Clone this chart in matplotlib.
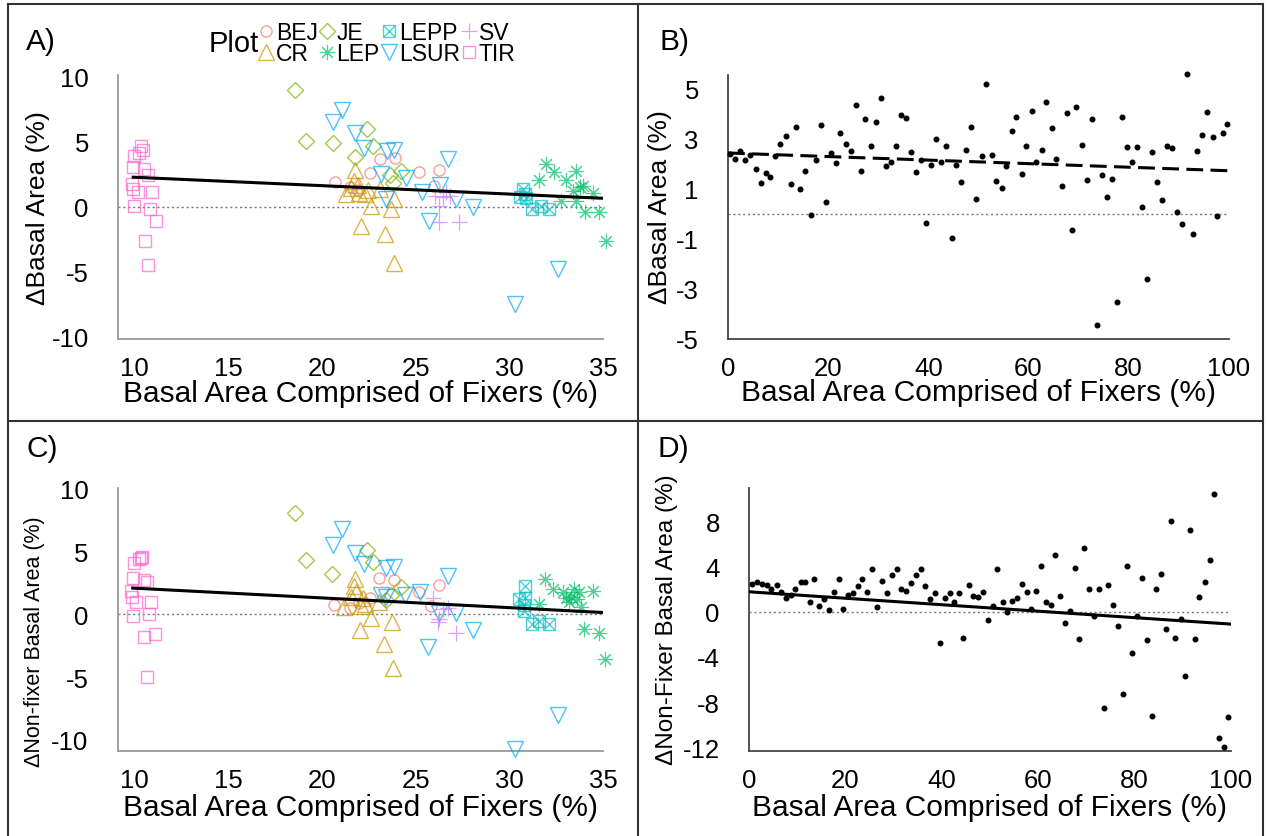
import numpy as np
import matplotlib
matplotlib.use("Agg")
import matplotlib.pyplot as plt
from matplotlib.lines import Line2D
from matplotlib.path import Path

plt.rcParams['font.family'] = ['Liberation Sans', 'DejaVu Sans']
plt.rcParams['axes.unicode_minus'] = False

W, H = 1268, 837

# ---------------- data: panel A (delta basal area vs % fixers, by plot) ----------------
plots = ['BEJ', 'CR', 'JE', 'LEP', 'LEPP', 'LSUR', 'SV', 'TIR']
colors = ['#F8766D', '#CD9600', '#7CAE00', '#00BE67', '#00BFC4', '#00A9FF', '#C77CFF', '#FF61CC']

a_x = {
    'TIR': [10.34, 10.43, 10.25, 9.98, 9.93, 10.50, 10.69, 9.84, 9.93, 10.16, 10.94, 9.98, 10.82, 11.13, 10.55, 10.72],
    'BEJ': [20.67, 21.51, 22.54, 23.10, 23.87, 25.16, 26.23, 25.95, 21.90],
    'JE': [18.56, 19.16, 20.58, 22.39, 22.74, 21.74, 24.23, 23.80, 23.60],
    'CR': [21.77, 21.70, 21.90, 21.30, 21.98, 22.27, 23.08, 22.62, 23.84, 23.70, 22.08, 23.33, 23.85, 21.55, 22.45],
    'LSUR': [21.06, 20.60, 21.77, 22.26, 23.48, 23.84, 23.13, 24.48, 25.31, 26.27, 26.71, 27.14, 28.07, 25.68, 23.42, 32.56, 30.30],
    'SV': [26.00, 26.44, 26.80, 26.62, 26.23, 26.22, 27.31],
    'LEPP': [30.73, 30.54, 30.88, 30.80, 31.18, 32.08, 31.65],
    'LEP': [31.93, 32.35, 31.56, 33.01, 33.52, 33.76, 33.37, 34.47, 32.74, 33.52, 34.01, 34.75, 35.14, 33.90],
}
a_y = {
    'TIR': [4.65, 4.38, 4.13, 3.92, 3.03, 2.90, 2.44, 1.75, 1.36, 1.11, 1.15, 0.08, -0.18, -1.12, -2.62, -4.48],
    'BEJ': [1.92, 1.49, 2.59, 3.67, 3.75, 2.64, 2.85, 1.57, 1.30],
    'JE': [8.98, 5.08, 4.90, 5.95, 4.67, 3.80, 2.72, 1.85, 2.40],
    'CR': [2.85, 1.95, 1.67, 0.98, 1.05, 0.98, 1.38, 0.08, 0.59, -0.20, -1.50, -2.11, -4.37, 1.40, 1.25],
    'LSUR': [7.41, 6.54, 5.70, 4.51, 4.31, 4.38, 2.55, 2.18, 1.13, 1.64, 3.63, 0.62, -0.05, -1.10, 0.59, -4.77, -7.45],
    'SV': [0.85, 0.72, 0.85, 1.10, 0.08, -1.20, -1.15],
    'LEPP': [1.36, 0.72, 0.65, 0.95, -0.18, -0.20, 0.05],
    'LEP': [3.25, 2.66, 2.04, 2.04, 2.77, 1.50, 1.23, 1.02, 0.42, 0.42, -0.38, -0.38, -2.61, 1.60],
}
fit_a = (2.91, -0.0647)   # intercept, slope

# ---------------- panel C (delta non-fixer basal area) ----------------
c_x = {
    'TIR': [10.34, 10.25, 9.98, 9.93, 10.51, 10.67, 9.84, 9.89, 10.11, 10.90, 9.93, 10.78, 11.10, 10.51, 10.68, 10.40],
    'BEJ': [20.67, 21.49, 22.54, 23.07, 23.87, 25.20, 26.23, 25.82, 22.00],
    'JE': [18.57, 19.13, 20.55, 22.39, 22.74, 24.24, 23.70, 23.40],
    'CR': [21.77, 21.74, 21.83, 21.20, 22.08, 22.30, 23.07, 22.62, 23.74, 22.02, 23.30, 23.81, 21.55, 22.20],
    'LSUR': [21.06, 20.59, 21.79, 22.25, 23.43, 23.84, 23.16, 24.45, 25.25, 26.27, 26.71, 27.15, 28.06, 25.68, 32.57, 30.30, 23.40],
    'SV': [25.91, 26.44, 26.70, 26.23, 26.18, 27.15],
    'LEPP': [30.85, 30.85, 30.49, 30.79, 31.20, 32.09, 31.59, 30.75],
    'LEP': [31.91, 32.34, 31.56, 32.84, 33.46, 33.69, 34.43, 33.19, 33.81, 33.99, 34.75, 35.11, 33.00, 33.30, 33.60],
}
c_y = {
    'TIR': [4.50, 4.37, 4.05, 2.91, 2.72, 2.56, 1.85, 1.40, 0.93, 0.98, -0.13, 0.00, -1.59, -1.85, -5.03, 4.55],
    'BEJ': [0.71, 0.45, 1.25, 2.91, 2.72, 1.77, 2.33, 0.61, 0.90],
    'JE': [8.00, 4.30, 3.17, 5.09, 4.12, 2.12, 1.50, 1.10],
    'CR': [2.80, 2.25, 1.72, 0.53, 0.66, 0.80, 0.93, -0.34, -0.64, -1.25, -2.34, -4.26, 1.40, 1.30],
    'LSUR': [6.78, 5.52, 4.84, 3.95, 3.68, 3.78, 1.51, 1.51, 1.76, 0.08, 3.07, 0.13, -1.25, -2.65, -8.05, -10.74, 1.40],
    'SV': [1.32, 0.40, 0.50, -0.40, -0.66, -1.51],
    'LEPP': [2.25, 1.32, 1.19, 0.26, -0.79, -0.79, -0.53, 0.70],
    'LEP': [2.78, 1.98, 0.79, 1.72, 1.98, 1.72, 1.85, 0.93, 0.53, -1.19, -1.51, -3.57, 1.30, 1.40, 1.20],
}
fit_c = (2.84, -0.0775)

# ---------------- panel B (simulated, delta basal area) ----------------
b_x = [0.4, 1.44, 2.4, 3.44, 4.4, 5.6, 6.56, 7.6, 8.48, 9.44, 10.4, 11.52, 12.56, 13.6, 14.4, 15.44,
       16.56, 17.6, 18.48, 19.52, 20.48, 21.52, 22.4, 23.52, 24.56, 25.6, 26.48, 27.44, 28.56, 29.52,
       30.48, 31.52, 32.56, 33.52, 34.56, 35.6, 36.64, 37.6, 38.56, 39.6, 40.56, 41.6, 42.56, 43.6,
       44.64, 45.6, 46.56, 47.6, 48.56, 49.6, 50.64, 51.6, 52.64, 53.6, 54.64, 55.6, 56.64, 57.6,
       58.64, 59.6, 60.64, 61.6, 62.64, 63.6, 64.64, 65.6, 66.64, 67.68, 68.64, 69.6, 70.64, 71.68,
       72.72, 73.68, 74.72, 75.68, 76.72, 77.68, 78.64, 79.68, 80.72, 81.68, 82.72, 83.68, 84.72,
       85.68, 86.72, 87.68, 88.72, 89.68, 90.72, 91.68, 92.8, 93.76, 94.72, 95.76, 96.8, 97.76, 98.8, 99.76]
b_y = [2.4, 2.2, 2.53, 2.16, 2.36, 1.8, 1.23, 1.64, 1.47, 2.31, 2.8, 3.11, 1.2, 3.47, 1.0, 1.71,
       -0.04, 2.16, 3.56, 0.47, 2.44, 2.04, 3.24, 2.8, 2.51, 4.36, 1.73, 3.8, 2.71, 3.69,
       4.65, 1.91, 2.07, 2.73, 3.96, 3.84, 2.47, 1.67, 2.16, -0.36, 1.97, 3.0, 2.07, 2.71,
       -0.97, 1.97, 1.29, 2.57, 3.47, 0.6, 2.33, 5.2, 2.37, 1.33, 1.03, 1.91, 3.33, 3.87,
       1.6, 2.72, 4.13, 2.07, 2.56, 4.47, 3.43, 2.2, 1.11, 4.04, -0.63, 4.29, 2.77, 1.36,
       3.8, -4.43, 1.57, 0.69, 1.4, -3.51, 3.87, 2.68, 2.07, 2.67, 0.29, -2.6, 2.49,
       1.27, 0.56, 2.71, 2.63, 0.09, -0.41, 5.59, -0.81, 2.52, 3.16, 4.07, 3.07, -0.07, 3.24, 3.59]
fit_b = (2.44, -0.0071)

# ---------------- panel D (simulated, delta non-fixer basal area) ----------------
d_x = [0.58, 1.58, 2.66, 3.65, 4.65, 5.73, 6.64, 7.72, 8.72, 9.63, 10.71, 11.54, 12.62, 13.54, 14.62,
       15.61, 16.61, 17.61, 18.6, 19.6, 20.6, 21.51, 22.59, 23.5, 24.58, 25.58, 26.66, 27.57, 28.57,
       29.65, 30.65, 31.64, 32.64, 33.64, 34.63, 35.63, 36.63, 37.62, 38.62, 39.62, 40.61, 41.69,
       42.61, 43.6, 44.52, 45.6, 46.51, 47.59, 48.5, 49.58, 50.58, 51.58, 52.66, 53.65, 54.65, 55.65,
       56.65, 57.64, 58.64, 59.63, 60.63, 61.63, 62.62, 63.62, 64.62, 65.61, 66.61, 67.61, 68.6,
       69.52, 70.6, 71.59, 72.59, 73.67, 74.58, 75.58, 76.58, 77.57, 78.57, 79.57, 80.56, 81.56,
       82.56, 83.56, 84.55, 85.55, 86.54, 87.54, 88.54, 89.62, 90.53, 91.53, 92.53, 93.52, 94.6,
       95.6, 96.59, 97.59, 98.59, 99.5]
d_y = [2.48, 2.6, 2.45, 2.36, 2.0, 2.39, 1.71, 1.18, 1.5, 2.06, 2.65, 2.68, 0.83, 2.86, 0.53,
       1.12, 0.15, 1.71, 2.86, 0.29, 1.47, 1.62, 2.24, 2.86, 1.71, 3.78, 0.44, 2.71, 1.62,
       3.24, 3.83, 2.0, 1.83, 2.51, 3.27, 3.78, 2.3, 1.09, 1.62, -2.8, 1.21, 1.65,
       0.88, 1.62, -2.33, 2.39, 1.39, 1.33, 1.71, -0.74, 0.53, 3.78, 0.88, -0.06, 0.94, 1.18,
       2.45, 1.77, 0.24, 1.83, 4.01, 0.88, 0.59, 5.04, 1.42, -1.0, 0.09, 3.86, -2.42,
       5.66, 2.06, -0.41, 2.06, -8.55, 2.39, 0.59, -1.3, -7.26, 4.07, -3.63, -0.35, 2.95,
       -2.51, -9.2, 2.0, 3.36, -1.53, 8.02, -2.33, -0.65, -5.66, 7.26, -2.42, 1.27, 2.65,
       4.6, 10.44, -11.18, -12.0, -9.35]
fit_d = (1.77, -0.0286)

xlabel = 'Basal Area Comprised of Fixers (%)'

# ---------------- marker shapes (R style open symbols) ----------------
box_x = Path([(-1, -1), (1, -1), (1, 1), (-1, 1), (-1, -1), (-1, -1), (1, 1), (-1, 1), (1, -1)],
             [Path.MOVETO, Path.LINETO, Path.LINETO, Path.LINETO, Path.LINETO,
              Path.MOVETO, Path.LINETO, Path.MOVETO, Path.LINETO])
shapes = {'BEJ': ('o', 8), 'CR': ('^', 11), 'JE': ('D', 7.8), 'LEP': ((8, 2, 0), 11),
          'LEPP': (box_x, 8.6), 'LSUR': ('v', 11), 'SV': ('+', 11), 'TIR': ('s', 8.6)}
widths = {'LEP': 0.8, 'SV': 0.9}

fig = plt.figure(figsize=(W / 100, H / 100), dpi=100)


def add_ax(l, t, r, b):
    return fig.add_axes([l / W, 1 - b / H, (r - l) / W, (b - t) / H])


def style(ax, spine_col, ylab, ylab_size, ylab_xy, xlab_base, panel, panel_xy):
    for s in ['top', 'right']:
        ax.spines[s].set_visible(False)
    for s in ['left', 'bottom']:
        ax.spines[s].set_color(spine_col)
        ax.spines[s].set_linewidth(1.3)
    ax.tick_params(axis='both', length=0, labelsize=18.5)
    ax.tick_params(axis='y', pad=21)
    ax.tick_params(axis='x', pad=12)
    ax.axhline(0, color='#777777', lw=1.0, linestyle=(0, (1.5, 2)), zorder=1)
    pos = ax.get_position()
    ax.set_xlabel(xlabel, fontsize=21.5, va='baseline')
    ax.xaxis.set_label_coords((pos.x0 + pos.x1) / 2, 1 - xlab_base / H, transform=fig.transFigure)
    ax.set_ylabel(ylab, fontsize=ylab_size, va='center', ha='center')
    ax.yaxis.set_label_coords(ylab_xy[0] / W, 1 - ylab_xy[1] / H, transform=fig.transFigure)
    fig.text(panel_xy[0] / W, 1 - panel_xy[1] / H, panel, fontsize=21.5, ha='left', va='baseline')


def draw_groups(ax, xs, ys, fit):
    for p, col in zip(plots, colors):
        m, ms = shapes[p]
        ax.plot(xs[p], ys[p], linestyle='none', marker=m, ms=ms, mfc='none', mec=col,
                mew=widths.get(p, 1.0), alpha=0.7, clip_on=False, zorder=3)
    allx = np.concatenate([xs[p] for p in plots])
    lx = np.array([allx.min(), allx.max()])
    ax.plot(lx, fit[0] + fit[1] * lx, color='black', lw=2.2, zorder=4, solid_capstyle='butt')


# A
axA = add_ax(118, 76, 603.3, 340)
draw_groups(axA, a_x, a_y, fit_a)
axA.set_xlim(9.11, 34.97)
axA.set_ylim(-10.18, 10.13)
axA.set_xticks([10, 15, 20, 25, 30, 35])
axA.set_yticks([-10, -5, 0, 5, 10])
style(axA, '#999999', '\u0394Basal Area (%)', 19, (38, 208), 401.5, 'A)', (26, 50))

# C
axC = add_ax(117.5, 489.3, 603.3, 752.3)
draw_groups(axC, c_x, c_y, fit_c)
axC.set_xlim(9.11, 34.97)
axC.set_ylim(-10.9, 9.98)
axC.set_xticks([10, 15, 20, 25, 30, 35])
axC.set_yticks([-10, -5, 0, 5, 10])
style(axC, '#999999', '\u0394Non-fixer Basal Area (%)', 15.5, (35, 641.5), 816.5, 'C)', (26, 457))

# B
axB = add_ax(728, 76, 1228.7, 340)
axB.plot(b_x, b_y, linestyle='none', marker='o', ms=3.3, color='black', clip_on=False, zorder=3)
lx = np.array([0.0, 100.0])
axB.plot(lx, fit_b[0] + fit_b[1] * lx, color='black', lw=2.2, linestyle=(0, (5.5, 2.4)), zorder=4)
axB.set_xlim(0, 100)
axB.set_ylim(-5.0, 5.56)
axB.set_xticks([0, 20, 40, 60, 80, 100])
axB.set_yticks([-5, -3, -1, 1, 3, 5])
style(axB, '#444444', '\u0394Basal Area (%)', 19, (660, 207.5), 401, 'B)', (659, 50))

# D
axD = add_ax(749, 489.3, 1230.7, 752.3)
axD.plot(d_x, d_y, linestyle='none', marker='o', ms=3.3, color='black', clip_on=False, zorder=3)
lx = np.array([0.0, 100.0])
axD.plot(lx, fit_d[0] + fit_d[1] * lx, color='black', lw=2.2, zorder=4)
axD.set_xlim(0, 100)
axD.set_ylim(-12.35, 10.93)
axD.set_xticks([0, 20, 40, 60, 80, 100])
axD.set_yticks([-12, -8, -4, 0, 4, 8])
style(axD, '#444444', '\u0394Non-Fixer Basal Area (%)', 17.5, (667, 620), 816, 'D)', (658, 457))

# legend for panel A
handles = [Line2D([], [], linestyle='none', marker=shapes[p][0], ms=shapes[p][1], mfc='none',
                  mec=c, mew=widths.get(p, 1.0), alpha=0.7) for p, c in zip(plots, colors)]
fig.legend(handles, plots, ncol=4, loc='upper left', bbox_to_anchor=(259 / W, 1 - 22 / H),
           bbox_transform=fig.transFigure, frameon=False, fontsize=16.5, handlelength=0.6,
           handletextpad=0.13, columnspacing=0.1, labelspacing=-0.08, borderpad=0,
           borderaxespad=0)
fig.text(209 / W, 1 - 51.5 / H, 'Plot', fontsize=21, ha='left', va='baseline')

# panel frame lines
frame = dict(color='#333333', lw=1.5, transform=fig.transFigure)
fig.add_artist(Line2D([8 / W, 1263 / W], [1 - 5 / H, 1 - 5 / H], **frame))
fig.add_artist(Line2D([8 / W, 8 / W], [1 - 5 / H, 0], **frame))
fig.add_artist(Line2D([1263 / W, 1263 / W], [1 - 5 / H, 0], **frame))
fig.add_artist(Line2D([637.7 / W, 637.7 / W], [1 - 5 / H, 0], **frame))
fig.add_artist(Line2D([8 / W, 1263 / W], [1 - 421.7 / H, 1 - 421.7 / H], **frame))

fig.savefig('out.png', dpi=100)
